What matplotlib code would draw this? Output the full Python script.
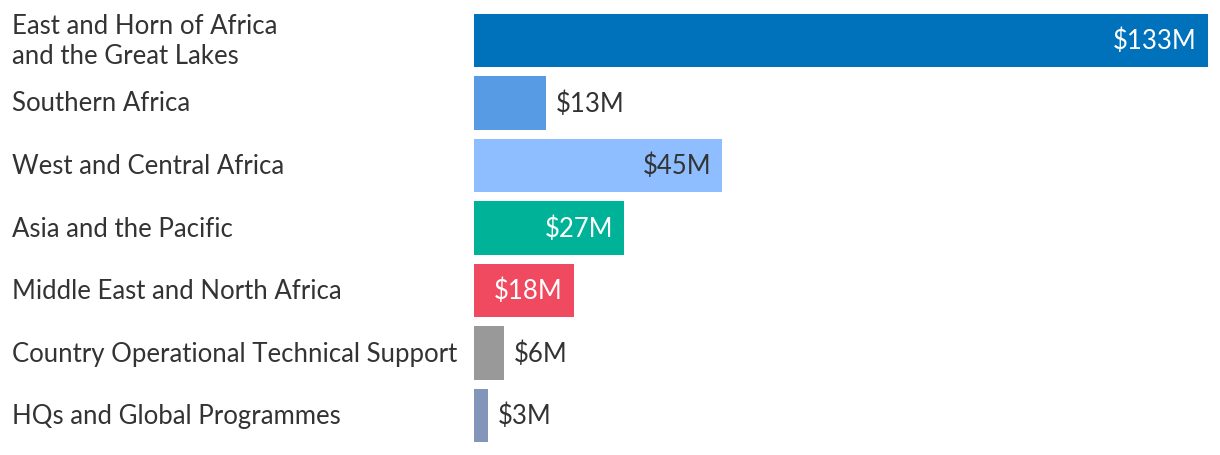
import matplotlib
matplotlib.use("Agg")
import matplotlib.pyplot as plt
import matplotlib.transforms as mtransforms

# regions and funding (USD millions)
regions = ["East and Horn of Africa\nand the Great Lakes", "Southern Africa",
           "West and Central Africa", "Asia and the Pacific",
           "Middle East and North Africa", "Country Operational Technical Support",
           "HQs and Global Programmes"]
values = [133, 13, 45, 27.2, 18.1, 5.4, 2.5]
value_labels = ["$133M", "$13M", "$45M", "$27M", "$18M", "$6M", "$3M"]
colors = ["#0072BC", "#589BE5", "#8EBEFF", "#00B398", "#EF4A60", "#999999", "#8395B9"]
inside = [True, False, True, True, True, False, False]
inside_text_color = ["white", None, "#333333", "white", "white", None, None]

plt.rcParams['font.family'] = ['Lato', 'DejaVu Sans']
text_col = "#333333"
fs = 18.5

fig = plt.figure(figsize=(12.2, 4.56), dpi=100)
ax = fig.add_axes([474/1220, 1 - 448/456, (1208 - 474)/1220, 438/456])

ypos = list(range(len(regions)))
ax.barh(ypos, values, height=0.855, color=colors)
ax.set_xlim(0, 133)
ax.set_ylim(len(regions) - 0.5, -0.5)
ax.axis("off")

trans = mtransforms.blended_transform_factory(fig.transFigure, ax.transData)
for y, name in zip(ypos, regions):
    fig.text(12/1220, y, name, transform=trans, ha="left", va="center",
             fontsize=fs, color=text_col, linespacing=1.25)

for y, v, lab, ins, tc in zip(ypos, values, value_labels, inside, inside_text_color):
    if ins:
        ax.annotate(lab, (v, y), xytext=(-8, 0), textcoords="offset points",
                    ha="right", va="center", fontsize=fs, color=tc)
    else:
        ax.annotate(lab, (v, y), xytext=(7.5, 0), textcoords="offset points",
                    ha="left", va="center", fontsize=fs, color=text_col)

fig.savefig("out.png", dpi=100)
